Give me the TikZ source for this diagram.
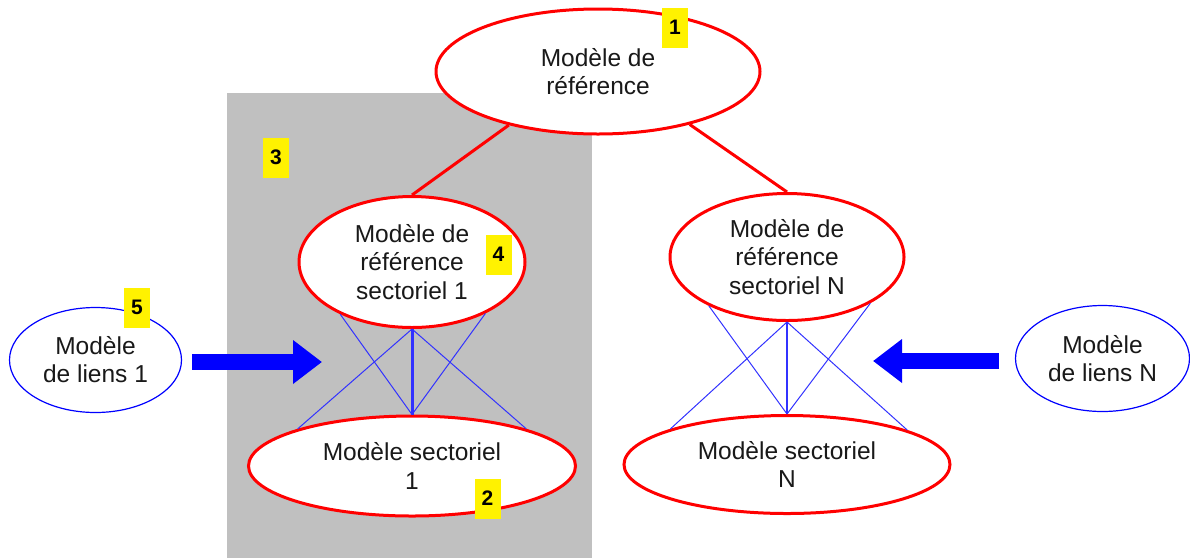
\documentclass[tikz,border=0pt]{standalone}
\usepackage{fontspec}
\setmainfont{Liberation Sans}
\usetikzlibrary{shapes.geometric,arrows.meta}
\definecolor{graybg}{RGB}{192,192,192}
\definecolor{txt}{RGB}{25,25,25}
\definecolor{linkblue}{RGB}{50,50,255}
\begin{document}
\begin{tikzpicture}[x=1pt,y=-1pt,
  redell/.style={ellipse, draw=red, line width=3pt, fill=white, inner sep=0pt, align=center, text=txt, font=\fontsize{24.5}{28.5}\selectfont},
  blueell/.style={ellipse, draw=blue, line width=1.2pt, fill=white, inner sep=0pt, align=center, text=txt, font=\fontsize{24.5}{28}\selectfont},
  tag/.style={fill=yellow, minimum width=26pt, minimum height=40pt, inner sep=0pt, font=\bfseries\fontsize{21}{21}\selectfont},
  redline/.style={draw=red, line width=3pt},
  link/.style={draw=linkblue, line width=1pt},
  bigarrow/.style={draw=blue, line width=16pt, -{Triangle[length=29pt,width=42pt]}}
]
\useasboundingbox (0,0) rectangle (1190,558);
\fill[graybg] (227,93) rectangle (592,558);

\node[redell, minimum width=324pt, minimum height=125pt] (top) at (598,71.5) {Modèle de\\référence};
\node[redell, minimum width=226pt, minimum height=131pt] (sr1) at (412,262) {Modèle de\\référence\\sectoriel 1};
\node[redell, minimum width=234pt, minimum height=127pt] (srN) at (787,257) {Modèle de\\référence\\sectoriel N};
\node[redell, minimum width=327pt, minimum height=100pt] (s1) at (412,466) {Modèle sectoriel\\1};
\node[redell, minimum width=326pt, minimum height=98pt] (sN) at (787,464.5) {Modèle sectoriel\\N};
\node[blueell, minimum width=172pt, minimum height=105pt] (l1) at (95.5,360) {Modèle\\de liens 1};
\node[blueell, minimum width=174pt, minimum height=106pt] (lN) at (1102.5,358.5) {Modèle\\de liens N};

\draw[redline] (top.211) -- (sr1.north);
\draw[redline] (top.330) -- (srN.north);

\draw[link] (sr1.216) -- (s1.north);
\draw[link] (sr1.325) -- (s1.north);
\draw[link] (sr1.south) -- (s1.162);
\draw[link] (sr1.south) -- (s1.18);
\draw[link, line width=3pt] (sr1.south) -- (s1.north);

\draw[link] (srN.212) -- (sN.north);
\draw[link] (srN.331) -- (sN.north);
\draw[link] (srN.south) -- (sN.163);
\draw[link] (srN.south) -- (sN.16);
\draw[link, line width=1.5pt] (srN.south) -- (sN.north);

\coordinate (a1s) at (192,362);
\coordinate (a1e) at (322,362);
\coordinate (aNs) at (999,361);
\coordinate (aNe) at (873,361);
\draw[bigarrow] (a1s) -- (a1e);
\draw[bigarrow] (aNs) -- (aNe);

\node[tag] (t1) at (675,27.5) {1};
\node[tag] (t2) at (487.5,498.5) {2};
\node[tag] (t3) at (276,157.5) {3};
\node[tag] (t4) at (498.5,254.5) {4};
\node[tag] (t5) at (137,307.5) {5};
\end{tikzpicture}
\end{document}
